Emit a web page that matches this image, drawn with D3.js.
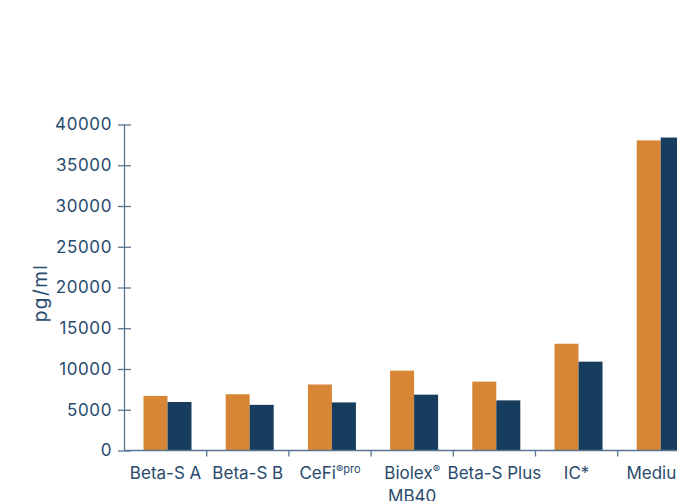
<!DOCTYPE html>
<html>
<head>
<meta charset="utf-8">
<script src="https://cdn.jsdelivr.net/npm/d3@7"></script>
<style>
  body { margin: 0; background: #fff; }
  text { font-family: Inter, "DejaVu Sans", sans-serif; fill: #284a6c; }
</style>
</head>
<body>
<div class="chart"></div>
<script>
var categories = ["Beta-S A", "Beta-S B", "CeFi", "Biolex", "Beta-S Plus", "IC*", "Medium"];
var seriesNames = ["a", "b"];
var seriesA = [6700, 6900, 8100, 9800, 8450, 13100, 38050];
var seriesB = [5950, 5600, 5900, 6850, 6150, 10900, 38400];
var yTicks = [0, 5000, 10000, 15000, 20000, 25000, 30000, 35000, 40000];
var colors = ["#d68634", "#163c5e"];

var width = 677, height = 501;
var axisColor = "#587592";

var svg = d3.select(".chart")
            .append("svg")
            .attr("width", width)
            .attr("height", height);

var x0 = d3.scaleBand()
           .domain(categories)
           .range([124.5, 124.5 + 7 * 82.2])
           .padding(0);

var x1 = d3.scaleBand()
           .domain(seriesNames)
           .range([19, 67]);

var y = d3.scaleLinear()
          .domain([0, 40000])
          .range([450.5, 124.5]);

// bars
var groups = svg.selectAll("g.group")
                .data(categories)
              .enter()
                .append("g")
                .attr("class", "group")
                .attr("transform", function(d) { return "translate(" + x0(d) + ",0)"; });

groups.selectAll("rect")
      .data(function(d, i) { return [seriesA[i], seriesB[i]]; })
    .enter()
      .append("rect")
      .attr("x", function(d, i) { return x1(seriesNames[i]); })
      .attr("width", x1.bandwidth())
      .attr("y", function(d) { return y(d); })
      .attr("height", function(d) { return y(0) - y(d); })
      .style("fill", function(d, i) { return colors[i]; });

// y axis
var yAxis = svg.append("g")
               .attr("transform", "translate(124.5,0)")
               .call(d3.axisLeft(y).tickValues(yTicks).tickSize(6.5).tickPadding(6).tickFormat(d3.format("d")));
yAxis.selectAll(".tick line").attr("x2", 6.5).attr("x1", -6.5);
yAxis.select(".domain").attr("d", "M0," + y(40000) + "V" + y(0));
yAxis.selectAll("line, path").attr("stroke", axisColor).attr("stroke-width", 1.3);
yAxis.selectAll("text")
     .style("font-size", "17px")
     .style("letter-spacing", "0.6px")
     .attr("fill", "#284a6c");
yAxis.attr("font-family", null);

// x axis line with ticks between categories
var xAxis = svg.append("g");
xAxis.append("line")
     .attr("x1", 124.5).attr("x2", width)
     .attr("y1", y(0)).attr("y2", y(0))
     .attr("stroke", axisColor).attr("stroke-width", 1.3);
xAxis.selectAll("line.sep")
     .data(categories.slice(1))
   .enter()
     .append("line")
     .attr("class", "sep")
     .attr("x1", function(d) { return x0(d); })
     .attr("x2", function(d) { return x0(d); })
     .attr("y1", y(0)).attr("y2", y(0) + 6)
     .attr("stroke", axisColor).attr("stroke-width", 1.3);

// x labels
var labels = xAxis.selectAll("text")
     .data(categories)
   .enter()
     .append("text")
     .attr("x", function(d) { return x0(d) + x0.bandwidth() / 2; })
     .attr("y", 479)
     .attr("text-anchor", "middle")
     .style("font-size", "17px");

labels.each(function(d) {
    var t = d3.select(this);
    var cx = x0(d) + x0.bandwidth() / 2;
    if (d === "CeFi") {
        t.append("tspan").text("CeFi");
        t.append("tspan").attr("dy", -6).style("font-size", "11px").text("®pro");
    } else if (d === "Biolex") {
        t.append("tspan").text("Biolex");
        t.append("tspan").attr("dy", -6).style("font-size", "11px").text("®");
        t.append("tspan").attr("x", cx).attr("dy", 29).text("MB40");
    } else {
        t.text(d);
    }
});

// y label
svg.append("text")
   .attr("transform", "translate(47,293) rotate(-90)")
   .attr("text-anchor", "middle")
   .style("font-size", "19px")
   .style("letter-spacing", "1.4px")
   .text("pg/ml");
</script>
</body>
</html>
